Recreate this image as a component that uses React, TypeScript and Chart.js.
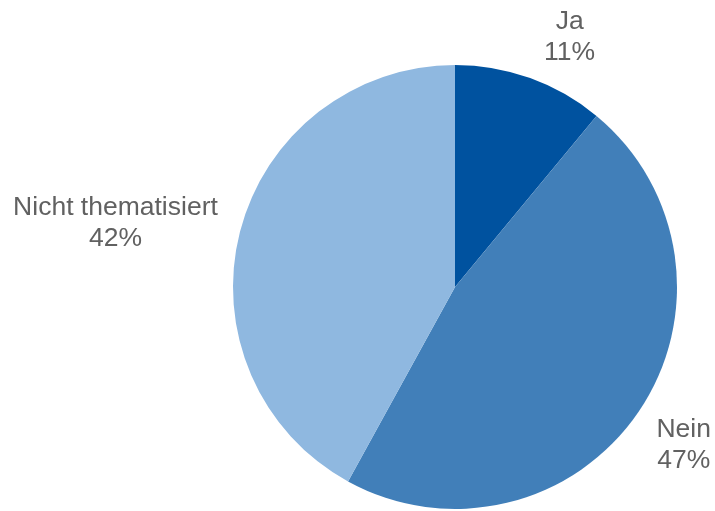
import React, { useEffect, useRef } from "react";
import { Chart, registerables } from "chart.js";

Chart.register(...registerables);

const categories: string[] = ["Ja", "Nein", "Nicht thematisiert"];
const values: number[] = [11, 47, 42];
const percentLabels: string[] = ["11%", "47%", "42%"];
const colors: string[] = ["#00529F", "#417FB9", "#8FB8E0"];

// small per-label nudges (px) applied after radial placement
const labelNudges: [number, number][] = [
  [24, 7],
  [6, 5],
  [-6, 4],
];

const FONT = "26.5px 'Liberation Sans', Arial, sans-serif";
const LINE_H = 31;

const outsideLabels = {
  id: "outsideLabels",
  afterDraw(chart: any) {
    const ctx = chart.ctx;
    const meta = chart.getDatasetMeta(0);
    ctx.save();
    ctx.font = FONT;
    ctx.fillStyle = "#616161";
    ctx.textAlign = "center";
    ctx.textBaseline = "middle";
    meta.data.forEach((arc: any, i: number) => {
      const p = arc.getProps(["x", "y", "startAngle", "endAngle", "outerRadius"], true);
      const mid = (p.startAngle + p.endAngle) / 2;
      const lines = [categories[i], percentLabels[i]];
      const w = Math.max(...lines.map((l) => ctx.measureText(l).width));
      const h = lines.length * LINE_H;
      const gap = 20;
      const cx = Math.cos(mid);
      const sy = Math.sin(mid);
      const ax = p.x + cx * (p.outerRadius + gap);
      const ay = p.y + sy * (p.outerRadius + gap);
      const bx = ax + cx * (w / 2) + labelNudges[i][0];
      const by = ay + sy * (h / 2) + labelNudges[i][1];
      lines.forEach((l, k) => {
        ctx.fillText(l, bx, by - h / 2 + LINE_H / 2 + k * LINE_H);
      });
    });
    ctx.restore();
  },
};

export default function App() {
  const ref = useRef<HTMLCanvasElement | null>(null);
  useEffect(() => {
    if (!ref.current) return;
    const chart = new Chart(ref.current, {
      type: "pie",
      data: {
        labels: categories,
        datasets: [
          {
            data: values,
            backgroundColor: colors,
            borderWidth: 0,
          },
        ],
      },
      options: {
        responsive: false,
        animation: false,
        layout: { padding: { top: 65, bottom: 2, left: 233, right: 38 } },
        plugins: {
          legend: { display: false },
          tooltip: { enabled: false },
        },
      },
      plugins: [outsideLabels],
    });
    return () => chart.destroy();
  }, []);
  return (
    <div style={{ position: "fixed", left: 0, top: 0, width: 715, height: 511, background: "#fff" }}>
      <canvas ref={ref} width={715} height={511} />
    </div>
  );
}
